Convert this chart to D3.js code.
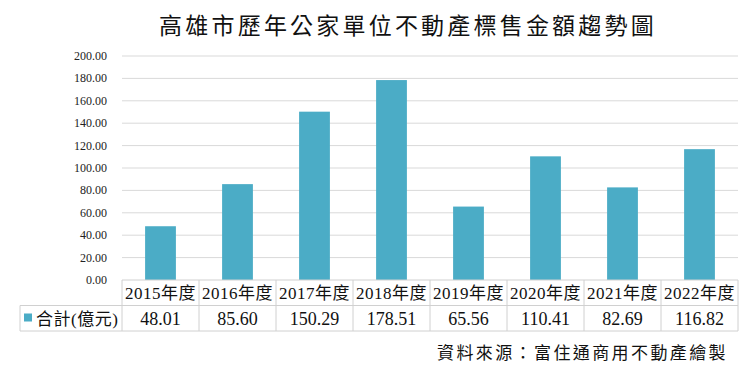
<html>
<head>
<script src="https://d3js.org/d3.v7.min.js"></script>
<style>
  body { margin: 0; background: #fff; }
</style>
</head>
<body>
<svg id="chart" width="750" height="374"></svg>
<script>
const years = ["2015年度", "2016年度", "2017年度", "2018年度", "2019年度", "2020年度", "2021年度", "2022年度"]
const totals = [48.01, 85.60, 150.29, 178.51, 65.56, 110.41, 82.69, 116.82]
const yTicks = [0, 20, 40, 60, 80, 100, 120, 140, 160, 180, 200]
const seriesName = "合計(億元)"

const svg = d3.select("#chart")
  .style("font-family", "'Liberation Serif', 'DejaVu Serif', 'Noto Sans CJK TC', serif")
const plotLeft = 122, plotRight = 738, plotTop = 56, plotBottom = 280
const rowH = 25.5

const x = d3.scaleBand().domain(years).range([plotLeft, plotRight]).paddingInner(0).paddingOuter(0)
const y = d3.scaleLinear().domain([0, 200]).range([plotBottom, plotTop])

// title
svg.append("text")
  .attr("x", 408).attr("y", 34)
  .attr("text-anchor", "middle")
  .style("font-size", "23px")
  .style("letter-spacing", "3.2px")
  .style("fill", "#111")
  .text("高雄市歷年公家單位不動產標售金額趨勢圖")

// gridlines
svg.selectAll("line.grid").data(yTicks.filter(d => d > 0))
  .join("line")
  .attr("class", "grid")
  .attr("x1", plotLeft).attr("x2", plotRight)
  .attr("y1", d => y(d)).attr("y2", d => y(d))
  .style("stroke", "#d9d9d9")
  .style("stroke-width", 1)

// y labels
svg.selectAll("text.ytick").data(yTicks)
  .join("text")
  .attr("class", "ytick")
  .attr("x", 107).attr("y", d => y(d) + 4)
  .attr("text-anchor", "end")
  .style("font-size", "12px")
  .style("fill", "#222")
  .text(d => d.toFixed(2))

// bars
const bw = x.bandwidth() * 0.4
svg.selectAll("rect.bar").data(totals)
  .join("rect")
  .attr("class", "bar")
  .attr("x", (d, i) => x(years[i]) + (x.bandwidth() - bw) / 2)
  .attr("width", bw)
  .attr("y", d => y(d))
  .attr("height", d => y(0) - y(d))
  .style("fill", "#4bacc6")

// table
const grid = "#d0d0d0"
const tb = svg.append("g")
tb.append("line").attr("x1", plotLeft).attr("x2", plotRight).attr("y1", plotBottom).attr("y2", plotBottom).style("stroke", grid)
tb.append("line").attr("x1", 20).attr("x2", plotRight).attr("y1", plotBottom + rowH).attr("y2", plotBottom + rowH).style("stroke", grid)
tb.append("line").attr("x1", 20).attr("x2", plotRight).attr("y1", plotBottom + 2 * rowH).attr("y2", plotBottom + 2 * rowH).style("stroke", grid)
tb.append("line").attr("x1", 20).attr("x2", 20).attr("y1", plotBottom + rowH).attr("y2", plotBottom + 2 * rowH).style("stroke", grid)
tb.selectAll("line.col").data(years.concat(["end"]))
  .join("line")
  .attr("class", "col")
  .attr("x1", (d, i) => plotLeft + i * x.bandwidth())
  .attr("x2", (d, i) => plotLeft + i * x.bandwidth())
  .attr("y1", plotBottom).attr("y2", plotBottom + 2 * rowH)
  .style("stroke", grid)

tb.selectAll("text.year").data(years)
  .join("text")
  .attr("class", "year")
  .attr("x", d => x(d) + x.bandwidth() / 2)
  .attr("y", plotBottom + 19)
  .attr("text-anchor", "middle")
  .style("font-size", "17px")
  .style("letter-spacing", "0.5px")
  .style("fill", "#111")
  .text(d => d)

tb.selectAll("text.val").data(totals)
  .join("text")
  .attr("class", "val")
  .attr("x", (d, i) => x(years[i]) + x.bandwidth() / 2)
  .attr("y", plotBottom + rowH + 19)
  .attr("text-anchor", "middle")
  .style("font-size", "18px")
  .style("fill", "#111")
  .text(d => d.toFixed(2))

tb.append("rect")
  .attr("x", 24).attr("y", plotBottom + rowH + 8)
  .attr("width", 8).attr("height", 8)
  .style("fill", "#4bacc6")
tb.append("text")
  .attr("x", 36).attr("y", plotBottom + rowH + 19)
  .style("font-size", "17px")
  .style("letter-spacing", "0.5px")
  .style("fill", "#111")
  .text(seriesName)

// source
svg.append("text")
  .attr("x", 728).attr("y", 359)
  .attr("text-anchor", "end")
  .style("font-size", "17px")
  .style("letter-spacing", "2.4px")
  .style("fill", "#111")
  .text("資料來源：富住通商用不動產繪製")
</script>
</body>
</html>
